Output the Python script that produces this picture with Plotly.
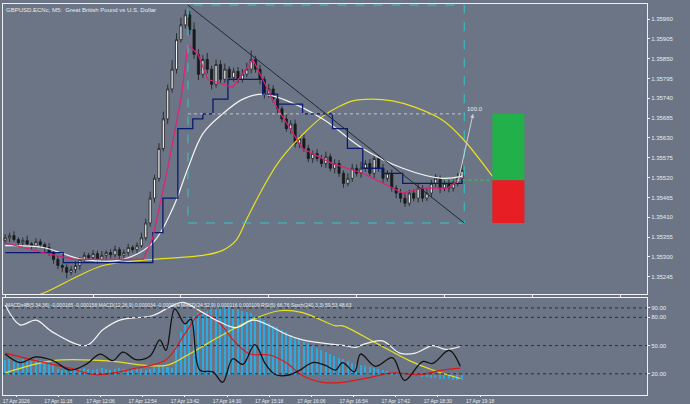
import plotly.graph_objects as go
from plotly.subplots import make_subplots

BG = '#6b7585'
TXT = '#e8ecf0'

# M5 candles: closes, opens = previous close
CLOSE = [1.35353, 1.35359, 1.35348, 1.35339, 1.35345, 1.35336, 1.35331, 1.35342, 1.35334, 1.35326,
         1.35312, 1.35293, 1.35276, 1.35271, 1.35257, 1.35265, 1.35276,
         1.35293, 1.35304, 1.35298, 1.35309, 1.35293, 1.35304, 1.35312, 1.35306, 1.35320, 1.35304,
         1.35312, 1.35326, 1.35320, 1.35331, 1.35353,
         1.35394, 1.35463, 1.35518, 1.35601, 1.35683, 1.35766,
         1.35821, 1.35903, 1.35944, 1.35972, 1.35931,
         1.35862, 1.35807, 1.35848, 1.35821, 1.35779, 1.35834, 1.35793, 1.35821, 1.35798, 1.35815,
         1.35793, 1.35807, 1.35821, 1.35848, 1.35821, 1.35793, 1.35752, 1.35766,
         1.35738, 1.35711, 1.35683, 1.35656, 1.35669, 1.35614, 1.35628, 1.35601, 1.35573, 1.35587,
         1.35573, 1.35559, 1.35578, 1.35546, 1.35559, 1.35532, 1.35504, 1.35518, 1.35546, 1.35532,
         1.35546, 1.35559, 1.35532, 1.35573, 1.35546, 1.35518, 1.35532, 1.35491, 1.35477, 1.35463,
         1.35449, 1.35477, 1.35463, 1.35491, 1.35463, 1.35477, 1.35504, 1.35518, 1.35491, 1.35504,
         1.35491, 1.35504, 1.35518, 1.35540]
FIRST_OPEN = 1.35345
# wick lengths in points (0.00001)
WICK_UP = [10, 8, 12, 6, 9, 14, 5, 10, 8, 6, 12, 7, 9, 5, 8, 10, 12, 6, 9, 7, 10, 8, 12, 6, 9, 11,
           7, 8, 10, 6, 9, 14, 12, 18, 10, 15, 20, 12, 25, 18, 20, 14, 10, 20, 15, 12, 18, 10, 14, 12,
           16, 8, 10, 12, 14, 18, 25, 10, 12, 8, 14, 10, 12, 8, 15, 10, 12, 9, 14, 10, 8, 12, 10, 14,
           9, 12, 10, 8, 14, 12, 10, 18, 9, 12, 10, 8, 12, 9, 10, 8, 12, 14, 9, 10, 12, 8, 14, 10,
           12, 8, 10, 9, 12, 14, 16]
WICK_DN = [8, 12, 6, 10, 9, 7, 12, 8, 10, 14, 9, 12, 10, 14, 16, 8, 10, 12, 9, 8, 10, 12, 7, 9, 10,
           8, 12, 10, 9, 8, 10, 6, 8, 10, 12, 9, 8, 14, 10, 12, 8, 10, 14, 12, 16, 10, 12, 14, 9, 12,
           10, 8, 12, 10, 9, 8, 12, 10, 14, 12, 10, 9, 12, 10, 8, 14, 10, 12, 9, 10, 12, 8, 10, 12,
           9, 14, 10, 12, 8, 10, 9, 12, 10, 8, 14, 10, 12, 9, 10, 14, 12, 10, 8, 9, 12, 10, 8, 12,
           10, 14, 9, 12, 10, 8, 10]

# overlay lines (bar index, price)
PINK_X = [0, 8.6, 15.5, 31.4, 33.6, 37, 40, 41.6, 43.9, 46.1, 51.8, 56.4, 58.6, 62, 67.7, 74.5, 81.4, 85.9, 90.5, 95, 100.7, 104]
PINK_Y = [1.35339, 1.35312, 1.35293, 1.35293, 1.35353, 1.35546, 1.35738, 1.35889, 1.35862, 1.35793, 1.35771,
          1.35848, 1.35793, 1.35711, 1.35601, 1.35559, 1.35532, 1.35504, 1.35477, 1.35491, 1.35491, 1.35518]
NAVY_X = [0, 13.2, 32.5, 33.6, 35.9, 39.3, 42.7, 45, 47.3, 50.7, 55.2, 58.6, 62, 67.7, 74.5, 77.9, 81.4, 85.9, 90.5, 101.8, 104]
NAVY_Y = [1.35312, 1.35284, 1.35284, 1.35367, 1.35463, 1.35656, 1.35683, 1.35697, 1.35738, 1.35793, 1.35793,
          1.35752, 1.35724, 1.35697, 1.35656, 1.35601, 1.35546, 1.35532, 1.35504, 1.35504, 1.35518]
WHITE_X = [0, 8.6, 17.7, 26.8, 33.6, 38.2, 41.6, 45, 49.5, 54.1, 58.6, 63.2, 72.3, 81.4, 90.5, 99.5, 104]
WHITE_Y = [1.35331, 1.35326, 1.35293, 1.35293, 1.35339, 1.35436, 1.35546, 1.35642, 1.35697, 1.35738, 1.35752,
           1.35738, 1.35683, 1.35601, 1.35546, 1.35518, 1.35524]
YEL_X = [0, 8.6, 15.5, 22.3, 33.6, 45, 49.5, 52.5, 55.2, 58.6, 62, 65.4, 68.6, 72.3, 76.1, 79.1, 83.4, 88.2, 93.4, 99.5, 104, 110.9]
YEL_Y = [1.35174, 1.35199, 1.35240, 1.35276, 1.35293, 1.35304, 1.35318, 1.35345, 1.35410, 1.35490, 1.35559,
         1.35610, 1.35650, 1.35690, 1.35718, 1.35733, 1.35738, 1.35733, 1.35715, 1.35680, 1.35630, 1.35524]

# oscillator panel (bar index, value)
OW_X = [0, 3.4, 7, 10.9, 18.4, 22.3, 26.1, 33.6, 37.5, 40.5, 45, 48.9, 52.5, 56.4, 60.2, 63.9, 67.7, 75.2, 77.3, 79.8, 81.4, 85.9, 89.8, 93.4, 97.3, 100.2, 103.6]
OW_Y = [93, 72, 77, 64, 50, 67, 77, 82, 91, 96, 85, 75, 69, 77, 71, 62, 56, 51, 50, 48, 51, 55, 42, 42, 50, 46, 49]
OB_X = [0, 3.4, 7, 10.9, 14.8, 18.4, 21.6, 24.5, 26.8, 29.8, 33, 35.2, 36.6, 38.6, 40.9, 42.3, 44.3, 47.3, 49.5, 51.8, 54.1, 56.8, 59.3, 61.6, 64.8, 67.1, 70, 72.9, 75.2, 76.8, 79.5, 80.9, 84.3, 88.2, 90.9, 95, 97.3, 101.1, 103.6]
OB_Y = [41, 32, 38, 34, 24, 30, 41, 34, 43, 35, 39, 56, 45, 89, 73, 78, 24, 22, 11, 36, 30, 51, 30, 19, 19, 24, 32, 29, 24, 32, 22, 41, 28, 37, 13, 33, 31, 45, 28]
OR_X = [0, 7, 14.8, 20.7, 29.8, 36.6, 41.1, 44.5, 47.9, 52.5, 55.7, 60.2, 63.9, 67.7, 72.3, 76.8, 82.9, 88.2, 94.3, 99.5, 103.6]
OR_Y = [42, 34, 26, 19, 26, 35, 64, 84, 78, 53, 41, 40, 32, 18, 11, 11, 16, 21, 19, 24, 26]
OY_X = [0, 10.9, 22.3, 36.6, 41.1, 48.9, 56.4, 62.5, 67.7, 75.2, 76.8, 84.3, 92, 97.9, 103.6]
OY_Y = [21, 34, 34, 29, 39, 60, 78, 87, 85, 71, 71, 53, 34, 23, 15]
HIST = [15, 16, 14, 15, 17, 15, 14, 16, 15, 14, 13, 12,
        6, 5, 7, 6, 5, 6, 7, 6, 5, 6, 7, 6, 5, 6, 7, 6, 5, 6, 7, 6, 5, 6, 8, 9, 10, 8, 7,
        30, 45, 55, 60, 62, 65, 66,
        68, 70, 70, 72, 72, 72, 70, 70, 68, 66, 65, 62, 60, 58, 55,
        52, 50, 47, 45, 42, 40, 38, 35, 33, 30,
        28, 26, 24, 22, 20, 18, 16, 14, 12, 11,
        10, 9, 8, 7, 6, 5, 4, 3, 2, 2,
        1, 0, -1, -2, -3, -3, -4, -4, -5, -5, -5, -6, -6, -6]
HIST_BASE = 19

TICK_LABELS = ['17 Apr 2026', '17 Apr 11:18', '17 Apr 12:06', '17 Apr 12:54', '17 Apr 13:42', '17 Apr 14:30',
               '17 Apr 15:18', '17 Apr 16:06', '17 Apr 16:54', '17 Apr 17:42', '17 Apr 18:30', '17 Apr 19:18']
PRICE_TICKS = [1.35960, 1.35905, 1.35850, 1.35795, 1.35740, 1.35685, 1.35630, 1.35575,
               1.35520, 1.35465, 1.35410, 1.35355, 1.35300, 1.35245]
OSC_TICKS = [90, 80, 50, 20]

n = len(CLOSE)
idx = list(range(n))
opens = [FIRST_OPEN] + CLOSE[:-1]
highs = [max(o, c) + w * 1e-5 for o, c, w in zip(opens, CLOSE, WICK_UP)]
lows = [min(o, c) - w * 1e-5 for o, c, w in zip(opens, CLOSE, WICK_DN)]

fig = make_subplots(rows=2, cols=1, shared_xaxes=True, row_heights=[0.75, 0.25], vertical_spacing=0.01)

fig.add_trace(go.Scatter(x=YEL_X, y=YEL_Y, mode='lines', line=dict(color='#e8e020', width=1.2, shape='spline')), 1, 1)
fig.add_trace(go.Scatter(x=WHITE_X, y=WHITE_Y, mode='lines', line=dict(color='#f4f4f4', width=1.2, shape='spline')), 1, 1)
fig.add_trace(go.Scatter(x=NAVY_X, y=NAVY_Y, mode='lines', line=dict(color='#0a1a6e', width=1.3, shape='hv')), 1, 1)
fig.add_trace(go.Candlestick(x=idx, open=opens, high=highs, low=lows, close=CLOSE, whiskerwidth=0,
                             increasing=dict(line=dict(color='#1a1a1a', width=0.8), fillcolor='#f4f4f4'),
                             decreasing=dict(line=dict(color='#1a1a1a', width=0.8), fillcolor='#1a1a1a')), 1, 1)
fig.add_trace(go.Scatter(x=PINK_X, y=PINK_Y, mode='lines', line=dict(color='#e0207a', width=1.2)), 1, 1)

fig.add_trace(go.Bar(x=idx, y=HIST, base=HIST_BASE, marker=dict(color='#2fa8e0', line=dict(width=0)), width=0.35), 2, 1)
fig.add_trace(go.Scatter(x=OY_X, y=OY_Y, mode='lines', line=dict(color='#e8e020', width=1.2, shape='spline')), 2, 1)
fig.add_trace(go.Scatter(x=OR_X, y=OR_Y, mode='lines', line=dict(color='#e01818', width=1.2, shape='spline')), 2, 1)
fig.add_trace(go.Scatter(x=OW_X, y=OW_Y, mode='lines', line=dict(color='#f4f4f4', width=1.2, shape='spline')), 2, 1)
fig.add_trace(go.Scatter(x=OB_X, y=OB_Y, mode='lines', line=dict(color='#111111', width=1.3, shape='spline')), 2, 1)

# drawing objects
BOX_X0, BOX_X1, BOX_TOP, BOX_BOT, BOX_MID = 41.6, 104.5, 1.35999, 1.35394, 1.35697
fig.add_shape(type='rect', x0=BOX_X0, x1=BOX_X1, y0=BOX_BOT, y1=BOX_TOP, line=dict(color='#30c8c8', width=1, dash='dash'), row=1, col=1)
fig.add_shape(type='line', x0=BOX_X0, x1=BOX_X1, y0=BOX_MID, y1=BOX_MID, line=dict(color='#c8c8c8', width=1, dash='dot'), row=1, col=1)
fig.add_shape(type='line', x0=BOX_X0, x1=BOX_X1, y0=BOX_TOP, y1=BOX_BOT, line=dict(color='#202838', width=1), row=1, col=1)
fig.add_shape(type='rect', x0=110.9, x1=118.2, y0=1.35513, y1=1.35697, fillcolor='#22b04a', line_width=0, row=1, col=1)
fig.add_shape(type='rect', x0=110.9, x1=118.2, y0=1.35394, y1=1.35513, fillcolor='#e81e25', line_width=0, row=1, col=1)
fig.add_shape(type='line', x0=100, x1=110.9, y0=1.35513, y1=1.35513, line=dict(color='#30d050', width=1, dash='dot'), row=1, col=1)
fig.add_annotation(x=106.5, y=BOX_MID, ax=103, ay=1.35504, axref='x', ayref='y', xref='x', yref='y',
                   showarrow=True, arrowhead=2, arrowsize=0.8, arrowcolor='#d0d0d0', arrowwidth=1, text='')
fig.add_annotation(x=104.6, y=BOX_MID, text='100.0', showarrow=False, font=dict(size=6, color=TXT), xanchor='left', yanchor='bottom')

for v in OSC_TICKS:
    fig.add_shape(type='line', xref='x2 domain', x0=0, x1=1, y0=v, y1=v, line=dict(color='#2a2f38', width=1, dash='dot'), row=2, col=1)

fig.add_annotation(xref='paper', yref='paper', x=0.002, y=0.998, xanchor='left', yanchor='top', showarrow=False,
                   text='GBPUSD.ECNc, M5:  Great British Pound vs U.S. Dollar', font=dict(size=6, color=TXT))
fig.add_annotation(xref='paper', yref='paper', x=0.002, y=0.243, xanchor='left', yanchor='top', showarrow=False,
                   text='MACDx4B(5,34,36) -0.000165 -0.000158 MACD(12,26,9) 0.000034 -0.000024 MACD(24,52,9) 0.000116 0.000109 RSI(5) 66.76 Stoch(240,3,3) 59.53 48.63',
                   font=dict(size=5, color=TXT))

ax_common = dict(showgrid=False, zeroline=False, linecolor='#f0f0f0', linewidth=1, mirror=True, automargin=False,
                 tickfont=dict(size=6, color=TXT), ticks='outside', ticklen=2, tickcolor='#f0f0f0')
fig.update_xaxes(range=[-0.5, 146.1], rangeslider_visible=False, **ax_common)
fig.update_xaxes(showticklabels=False, row=1, col=1)
fig.update_xaxes(tickvals=[2.5 + 9.6 * k for k in range(len(TICK_LABELS))], ticktext=TICK_LABELS,
                 tickfont=dict(size=5, color=TXT), ticklen=1, row=2, col=1)
fig.update_yaxes(side='right', **ax_common)
fig.update_yaxes(range=[1.35196, 1.36002], tickvals=PRICE_TICKS, ticktext=[f'{v:.5f}' for v in PRICE_TICKS], row=1, col=1)
fig.update_yaxes(range=[-2.5, 100.3], tickvals=OSC_TICKS, ticktext=[f'{v:.2f}' for v in OSC_TICKS], row=2, col=1)

fig.update_layout(width=690, height=404, margin=dict(l=3, r=43, t=4, b=9), paper_bgcolor=BG, plot_bgcolor=BG,
                  showlegend=False, bargap=0, font=dict(family='Liberation Sans, Arial', size=6, color=TXT))
fig.write_html("out.html", config={'displayModeBar': False},
               post_script="document.body.style.margin='0';document.body.style.background='%s';" % BG)
